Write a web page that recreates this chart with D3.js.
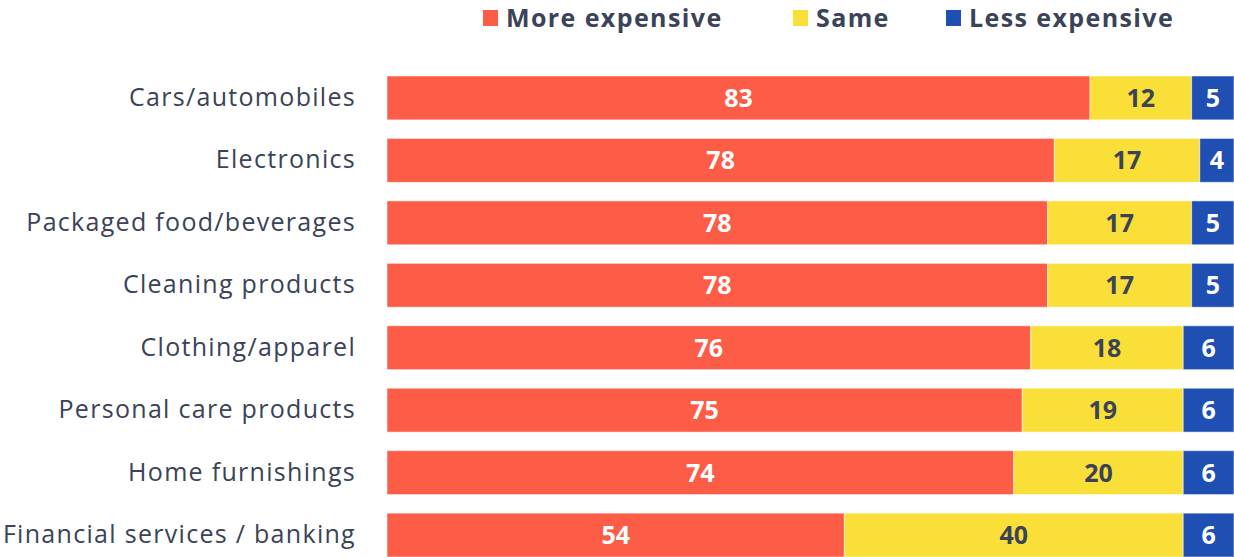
<!DOCTYPE html>
<html>
<head>
<meta charset="utf-8">
<script src="https://cdn.jsdelivr.net/npm/d3@7"></script>
<style>
  html, body { margin: 0; padding: 0; background: #fff; }
  svg { display: block; }
  text { font-family: "Open Sans", "Noto Sans", sans-serif; }
</style>
</head>
<body>
<svg id="chart" width="1234" height="557"></svg>
<script>
// Survey categories, top to bottom
const categories = [
  "Cars/automobiles",
  "Electronics",
  "Packaged food/beverages",
  "Cleaning products",
  "Clothing/apparel",
  "Personal care products",
  "Home furnishings",
  "Financial services / banking"
];

// Share of respondents (%) per answer
const moreExpensive = [83, 78, 78, 78, 76, 75, 74, 54];
const same          = [12, 17, 17, 17, 18, 19, 20, 40];
const lessExpensive = [5, 4, 5, 5, 6, 6, 6, 6];

const seriesNames = ["More expensive", "Same", "Less expensive"];
const seriesKeys = ["more", "same", "less"];
const colors = ["#FD5C46", "#FADF38", "#1F4FB3"];
const labelColors = ["#ffffff", "#3A4357", "#ffffff"];

const rows = categories.map((c, i) => ({
  category: c,
  more: moreExpensive[i],
  same: same[i],
  less: lessExpensive[i]
}));

const svg = d3.select("#chart");
const W = 1234, H = 557;
const left = 387, right = W;

const x = d3.scaleLinear().domain([0, 1]).range([left, right]);
const y = d3.scaleBand()
  .domain(categories)
  .range([66.7, 566.3])
  .paddingInner(0.297)
  .paddingOuter(0.1485);

// Each row is shown as a 100% stacked bar
const stacked = d3.stack().keys(seriesKeys).offset(d3.stackOffsetExpand)(rows);

const layers = svg.append("g").selectAll("g")
  .data(stacked)
  .join("g")
  .attr("fill", (d, i) => colors[i]);

layers.selectAll("rect")
  .data(d => d)
  .join("rect")
  .attr("x", d => x(d[0]))
  .attr("y", d => y(d.data.category))
  .attr("width", d => x(d[1]) - x(d[0]))
  .attr("height", y.bandwidth())
  .attr("stroke", "rgba(255,255,255,0.55)")
  .attr("stroke-width", 1);

// Value labels centred in each segment
layers.each(function (layer, li) {
  d3.select(this).selectAll("text")
    .data(layer)
    .join("text")
    .attr("x", d => (x(d[0]) + x(d[1])) / 2)
    .attr("y", d => y(d.data.category) + y.bandwidth() / 2)
    .attr("dy", "0.36em")
    .attr("text-anchor", "middle")
    .attr("font-size", 25)
    .attr("font-weight", 700)
    .attr("fill", labelColors[li])
    .text(d => d.data[layer.key]);
});

// Category axis on the left
const yAxis = svg.append("g")
  .attr("transform", `translate(${left - 31},0)`)
  .call(d3.axisLeft(y).tickSize(0).tickPadding(0));
yAxis.select(".domain").remove();
yAxis.selectAll("text")
  .attr("font-family", "\"Open Sans\", \"Noto Sans\", sans-serif")
  .attr("font-size", 25)
  .attr("letter-spacing", "1.3px")
  .attr("fill", "#3A4357")
  .attr("dy", "0.32em");

// Legend
const legendX = [483, 793, 946];
const legend = svg.append("g").selectAll("g")
  .data(seriesNames)
  .join("g")
  .attr("transform", (d, i) => `translate(${legendX[i]},0)`);
legend.append("rect")
  .attr("x", 0).attr("y", 10)
  .attr("width", 15).attr("height", 16)
  .attr("fill", (d, i) => colors[i]);
legend.append("text")
  .attr("x", 23).attr("y", 27)
  .attr("font-size", 25)
  .attr("font-weight", 700)
  .attr("letter-spacing", "1.4px")
  .attr("fill", "#3A4357")
  .text(d => d);
</script>
</body>
</html>
